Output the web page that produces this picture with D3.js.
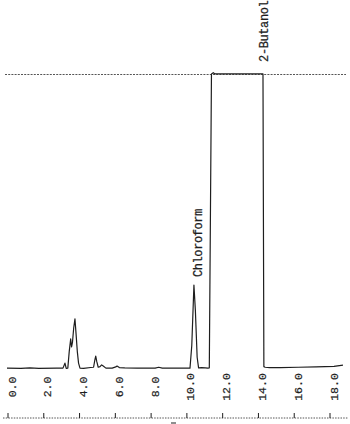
<!DOCTYPE html>
<html>
<head>
<meta charset="utf-8">
<script src="https://cdn.jsdelivr.net/npm/d3@7"></script>
<style>
  html, body { margin: 0; padding: 0; background: #fff; }
  svg { display: block; }
</style>
</head>
<body>
<svg id="chart" width="350" height="424"></svg>
<script>
// Retention time (min) and detector signal (% of full scale)
const timeMin = [-0.28, 0.5, 1.0, 1.5, 2.5, 2.85, 2.96, 3.03, 3.12, 3.2, 3.28, 3.33, 3.38, 3.45, 3.52, 3.58, 3.65, 3.72, 3.8, 4.0, 4.4, 4.56, 4.63, 4.68, 4.74, 4.82, 4.92, 5.01, 5.1, 5.25, 5.6, 5.8, 5.87, 6.0, 6.3, 7.0, 8.0, 8.2, 8.4, 9.5, 9.95, 10.05, 10.17, 10.25, 10.35, 10.43, 10.6, 10.8, 10.95, 11.03, 11.15, 11.25, 11.35, 12.0, 13.0, 14.03, 14.08, 14.15, 14.4, 15.0, 16.0, 17.0, 18.0, 18.5];
const signal  = [0.3, 0.2, 0.4, 0.2, 0.3, 0.3, 2.0, 0.2, 0.3, 6.0, 10.2, 7.5, 9.0, 14.0, 17.0, 12.0, 6.0, 2.0, 0.3, 0.2, 0.5, 0.6, 3.0, 4.4, 2.5, 0.6, 0.8, 1.4, 1.0, 0.3, 0.3, 0.7, 1.0, 0.5, 0.4, 0.3, 0.3, 0.6, 0.3, 0.3, 0.3, 8.0, 28.5, 20.0, 4.0, 0.4, 0.5, 0.4, 0.3, 0.4, 100.2, 100.6, 100.2, 100.2, 100.2, 100.2, 0.8, 0.6, 0.5, 0.5, 0.6, 0.7, 0.9, 1.3];

const tickValues = [0, 2, 4, 6, 8, 10, 12, 14, 16, 18];
const tickLabels = ["0.0", "2.0", "4.0", "6.0", "8.0", "10.0", "12.0", "14.0", "16.0", "18.0"];

const peakNames = ["Chloroform", "2-Butanol"];
const peakTimes = [10.17, 14.03];
const peakSignals = [28.5, 100.2];

const fullScale = 100;

const svg = d3.select("#chart");
const x = d3.scaleLinear().domain([0, 18]).range([12, 334]);
const y = d3.scaleLinear().domain([0, fullScale]).range([369, 74.5]);

const ink = "#1e1e1e";
const mono = "'Liberation Mono', 'DejaVu Sans Mono', monospace";

// full-scale dotted line
svg.append("line")
  .attr("x1", 5).attr("x2", 346)
  .attr("y1", y(fullScale)).attr("y2", y(fullScale))
  .attr("stroke", "#555").attr("stroke-width", 1.1)
  .attr("stroke-dasharray", "2,1.2");

// chromatogram trace
const pts = timeMin.map((t, i) => [t, signal[i]]);
svg.append("path")
  .datum(pts)
  .attr("fill", "none")
  .attr("stroke", ink)
  .attr("stroke-width", 1.2)
  .attr("stroke-linejoin", "round")
  .attr("d", d3.line().x(d => x(d[0])).y(d => y(d[1])));

// peak labels (rotated, reading upward)
const labelGap = [8, 12];
const labelDx = [5, 2];
peakNames.forEach((name, i) => {
  const lx = x(peakTimes[i]) + labelDx[i];
  const ly = y(peakSignals[i]) - labelGap[i];
  svg.append("text")
    .attr("transform", `translate(${lx},${ly}) rotate(-90)`)
    .attr("text-anchor", "start")
    .attr("dominant-baseline", "central")
    .attr("font-family", mono)
    .attr("font-size", 12)
    .attr("letter-spacing", -0.4)
    .attr("fill", ink)
    .attr("stroke", ink)
    .attr("stroke-width", 0.25)
    .text(name);
});

// time tick labels (rotated)
svg.append("g").selectAll("text")
  .data(tickValues)
  .join("text")
  .attr("transform", d => `translate(${x(d)},387) rotate(-90)`)
  .attr("text-anchor", "middle")
  .attr("dominant-baseline", "central")
  .attr("font-family", mono)
  .attr("font-size", 11.5)
  .attr("fill", ink)
  .attr("stroke", ink)
  .attr("stroke-width", 0.2)
  .text((d, i) => tickLabels[i]);

// bottom ruler axis
const axisY = 418;
svg.append("line")
  .attr("x1", 3).attr("x2", 348)
  .attr("y1", axisY).attr("y2", axisY)
  .attr("stroke", "#555").attr("stroke-width", 1)
  .attr("stroke-dasharray", "1.5,1.2");
svg.append("g").selectAll("line")
  .data(tickValues)
  .join("line")
  .attr("x1", d => x(d) - 4).attr("x2", d => x(d) - 4)
  .attr("y1", axisY - 5).attr("y2", axisY)
  .attr("stroke", ink).attr("stroke-width", 1);

// small cut-off mark below the axis
svg.append("line")
  .attr("x1", 171).attr("x2", 176)
  .attr("y1", 423).attr("y2", 423)
  .attr("stroke", ink).attr("stroke-width", 1);
</script>
</body>
</html>
